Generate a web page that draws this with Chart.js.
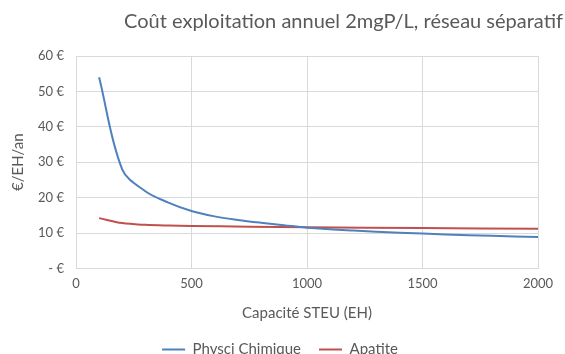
<!DOCTYPE html>
<html>
<head>
<meta charset="utf-8">
<script src="https://cdn.jsdelivr.net/npm/chart.js@4"></script>
<style>
  html, body { margin: 0; padding: 0; background: #fff; overflow: hidden; }
  #wrap { width: 565px; height: 354px; overflow: hidden; }
</style>
</head>
<body>
<div id="wrap"><canvas id="chart" width="565" height="367"></canvas></div>
<script>
// capacities (EH) and yearly operating cost per EH
var capacityPhysico = [100, 200, 300, 400, 500, 600, 700, 800, 900, 1000, 1200, 1400, 1600, 1800, 2000];
var costPhysico = [54, 28, 21.8, 18.6, 16.2, 14.7, 13.7, 12.9, 12.2, 11.5, 10.7, 10.1, 9.6, 9.2, 8.9];
var capacityApatite = [100, 200, 300, 400, 500, 750, 1000, 1500, 2000];
var costApatite = [14.2, 12.8, 12.3, 12.1, 12.0, 11.8, 11.6, 11.4, 11.2];

var titleText = 'Coût exploitation annuel 2mgP/L, réseau séparatif';
var xTitle = 'Capacité STEU (EH)';
var yTitle = '€/EH/an';
var seriesNames = ['Physci Chimique', 'Apatite'];

var FONT = 'Lato, "Open Sans", sans-serif';
var GREY = '#595959';

function toPoints(xs, ys) {
	var pts = [];
	for (var i = 0; i < xs.length; i++) {
		pts.push({ x: xs[i], y: ys[i] });
	}
	return pts;
}

// title sits right of the plot and the y title left of the legend box,
// so both are drawn by hand
var textPlugin = {
	id: 'sideTexts',
	afterDraw: function (chart) {
		var ctx = chart.ctx;
		var area = chart.chartArea;
		ctx.save();
		ctx.fillStyle = GREY;
		ctx.textBaseline = 'middle';
		ctx.font = '20px ' + FONT;
		ctx.textAlign = 'right';
		ctx.fillText(titleText, 563, 22);
		ctx.font = '15px ' + FONT;
		ctx.textAlign = 'center';
		ctx.translate(18, (area.top + area.bottom) / 2);
		ctx.rotate(-Math.PI / 2);
		ctx.fillText(yTitle, 0, 0);
		ctx.restore();
	}
};

new Chart(document.getElementById('chart'), {
	type: 'line',
	data: {
		datasets: [{
			label: seriesNames[0],
			data: toPoints(capacityPhysico, costPhysico),
			borderColor: '#4F81BD',
			backgroundColor: '#4F81BD',
			borderWidth: 2,
			pointRadius: 0,
			tension: 0.35,
			fill: false
		}, {
			label: seriesNames[1],
			data: toPoints(capacityApatite, costApatite),
			borderColor: '#C0504D',
			backgroundColor: '#C0504D',
			borderWidth: 2,
			pointRadius: 0,
			tension: 0.35,
			fill: false
		}]
	},
	options: {
		responsive: false,
		animation: false,
		layout: { padding: { top: 56, right: 27, left: 22, bottom: 0 } },
		plugins: {
			title: { display: false },
			tooltip: { enabled: false },
			legend: {
				position: 'bottom',
				labels: {
					color: GREY,
					font: { family: FONT, size: 15 },
					boxWidth: 23,
					boxHeight: 2,
					padding: 18,
					generateLabels: function (chart) {
						var items = Chart.defaults.plugins.legend.labels.generateLabels(chart);
						items.forEach(function (it) { it.lineWidth = 0; });
						return items;
					}
				}
			}
		},
		scales: {
			x: {
				type: 'linear',
				min: 0,
				max: 2000,
				ticks: {
					stepSize: 500,
					color: GREY,
					font: { family: FONT, size: 13 },
					padding: 8,
					callback: function (v) { return String(v); }
				},
				grid: { color: '#d9d9d9', drawTicks: false },
				border: { color: '#d9d9d9' },
				title: { display: true, text: xTitle, color: GREY, font: { family: FONT, size: 15 }, padding: { top: 4, bottom: 2 } }
			},
			y: {
				min: 0,
				max: 60,
				ticks: {
					stepSize: 10,
					color: GREY,
					font: { family: FONT, size: 13 },
					padding: 12,
					callback: function (v) { return v === 0 ? '- €' : v + ' €'; }
				},
				grid: { color: '#d9d9d9', drawTicks: false },
				border: { color: '#d9d9d9' },
				afterFit: function (scale) { scale.width = 54; }
			}
		}
	},
	plugins: [textPlugin]
});
</script>
</body>
</html>
